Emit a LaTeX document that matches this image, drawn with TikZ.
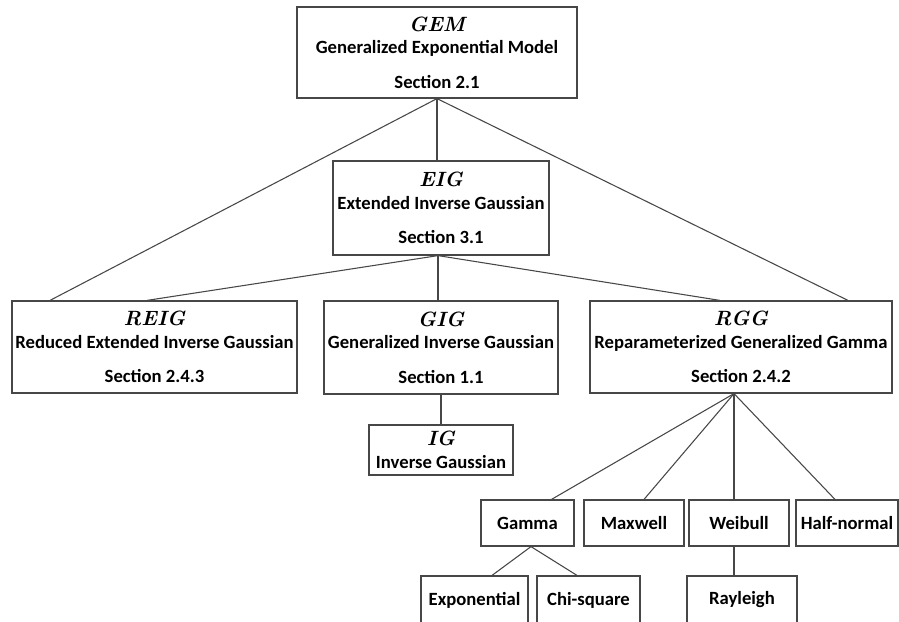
\documentclass[tikz,border=0pt]{standalone}
\usepackage{fontspec}
\setsansfont{Carlito}
\usetikzlibrary{calc}
\newcommand{\nm}[1]{{\rmfamily\bfseries\itshape\fontsize{15.5}{17}\selectfont #1}}
\tikzset{
  box/.style={draw=black!72, line width=0.9pt, fill=white, inner sep=0pt, align=center,
    font=\fontsize{14}{17}\selectfont\sffamily\bfseries},
  sz/.style 2 args={minimum width=#1*0.75pt, minimum height=#2*0.75pt},
  link/.style={draw=black!72, line width=0.8pt},
}
\begin{document}
\begin{tikzpicture}[x=0.75pt,y=-0.75pt]
\useasboundingbox (0,0) rectangle (899,621);
% upper boxes
\node[box, sz={280}{91}] (gem) at (437,52.5) {\nm{GEM}\\Generalized Exponential Model\\[9pt]Section 2.1};
\node[box, sz={216}{94}] (eig) at (441,208) {\nm{EIG}\\Extended Inverse Gaussian\\[9pt]Section 3.1};
\node[box, sz={285}{92}] (reig) at (154.5,347) {\nm{REIG}\\Reduced Extended Inverse Gaussian\\[9pt]Section 2.4.3};
\node[box, sz={234}{93}] (gig) at (441,347.5) {\nm{GIG}\\Generalized Inverse Gaussian\\[9pt]Section 1.1};
\node[box, sz={302}{92}] (rgg) at (741,347) {\nm{RGG}\\Reparameterized Generalized Gamma\\[9pt]Section 2.4.2};
\node[box, sz={144}{50}] (ig) at (441,450) {\nm{IG}\\Inverse Gaussian};
% lower boxes
\node[box, sz={93}{46}] (gamma) at (527.5,523) {Gamma};
\node[box, sz={100}{46}] (maxwell) at (634,523) {Maxwell};
\node[box, sz={100}{46}] (weibull) at (739,523) {Weibull};
\node[box, sz={102}{46}] (halfnormal) at (847,523) {Half-normal};
\node[box, sz={107}{48}] (expo) at (474.5,600) {Exponential};
\node[box, sz={103}{48}] (chisq) at (588.5,600) {Chi-square};
\node[box, sz={110}{48}] (rayleigh) at (742,600) {Rayleigh};
% hubs
\coordinate (eighub) at ($(eig.south)+(-3,0)$);
\coordinate (rhub) at ($(rgg.south)+(-7,0)$);
\coordinate (ghub) at ($(gamma.south)+(3.5,0)$);
% links
\draw[link] (gem.south) -- (gem.south |- eig.north);
\draw[link] (gem.south) -- ($(reig.north)+(-104.5,0)$);
\draw[link] (gem.south) -- ($(rgg.north)+(107,0)$);
\draw[link] (eighub) -- (eighub |- gig.north);
\draw[link] (eighub) -- ($(reig.north)+(-7.5,0)$);
\draw[link] (eighub) -- ($(rgg.north)+(-21,0)$);
\draw[link] (gig.south) -- (ig.north);
\draw[link] (rhub) -- ($(gamma.north)+(24,0)$);
\draw[link] (rhub) -- ($(maxwell.north)+(10,0)$);
\draw[link] (rhub) -- (rhub |- weibull.north);
\draw[link] (rhub) -- ($(halfnormal.north)+(-12,0)$);
\draw[link] (rhub |- weibull.south) -- (rhub |- rayleigh.north);
\draw[link] (ghub) -- ($(expo.north)+(17.5,0)$);
\draw[link] (ghub) -- ($(chisq.north)+(-11.5,0)$);
\end{tikzpicture}
\end{document}
